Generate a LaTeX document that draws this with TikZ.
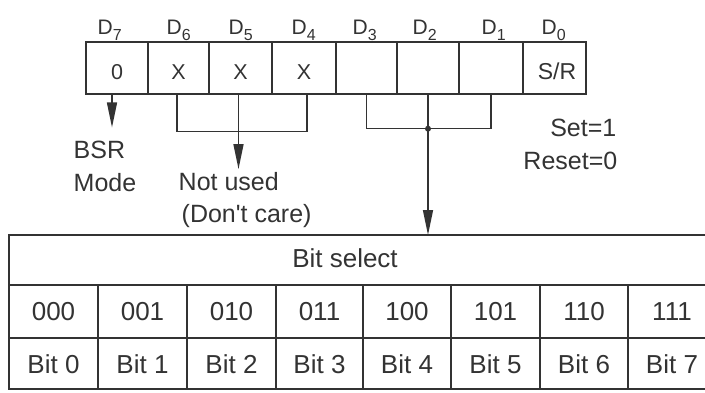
\documentclass[tikz,border=0pt]{standalone}
\usepackage{fontspec}
\setmainfont{Liberation Sans}
\newfontfamily\plainsans{Liberation Sans}
\usetikzlibrary{arrows.meta}
\definecolor{ink}{HTML}{333333}
\newcommand\dsub[1]{\raisebox{-6pt}{\fontsize{16}{16}\selectfont #1}}
\begin{document}
\begin{tikzpicture}[x=1pt,y=-1pt,line width=1.4pt,
  every node/.style={text=ink,inner sep=0pt},
  regcell/.style={draw=ink,minimum height=52pt,text height=23pt,text depth=0pt,font=\fontsize{21.5}{21.5}\selectfont},
  dlab/.style={anchor=base west,font=\fontsize{21}{21}\selectfont},
  lab/.style={font=\fontsize{25}{25}\selectfont},
  tcell/.style={font=\fontsize{26}{26}\selectfont},
  arr/.style={draw=ink,-{Triangle[length=25pt,width=10pt]}},
  grid/.style={draw=ink}]
\useasboundingbox (0,0) rectangle (705,392);
% register
\node[regcell,minimum width=62pt] (r7) at (117,68) {0};
\node[regcell,minimum width=61pt] (r6) at (178.5,68) {X};
\node[regcell,minimum width=63pt] (r5) at (240.5,68) {X};
\node[regcell,minimum width=64pt] (r4) at (304,68) {X};
\node[regcell,minimum width=61pt] (r3) at (366.5,68) {};
\node[regcell,minimum width=62pt] (r2) at (428,68) {};
\node[regcell,minimum width=64pt] (r1) at (491,68) {};
\node[regcell,minimum width=63pt,font=\fontsize{23}{23}\selectfont] (r0) at (554.5,68) {\hspace{5pt}S/R};
% bit labels
\node[dlab] (d7) at (97,34) {D\dsub{7}};
\node[dlab] (d6) at (166,34) {D\dsub{6}};
\node[dlab] (d5) at (228,34) {D\dsub{5}};
\node[dlab] (d4) at (291,34) {D\dsub{4}};
\node[dlab] (d3) at (352,34) {D\dsub{3}};
\node[dlab] (d2) at (412,34) {D\dsub{2}};
\node[dlab] (d1) at (481,34) {D\dsub{1}};
\node[dlab] (d0) at (541,34) {D\dsub{0}};
% labels
\node[lab,anchor=west] (bsr) at (73,150) {BSR};
\node[lab,anchor=west] (mode) at (73,183) {Mode};
\node[lab,anchor=west] (nu) at (178,182) {Not used};
\node[lab,anchor=west] (dc) at (181,216) {\plainsans (Don\char"0027 t care)};
\node[lab,anchor=east] (set) at (617,128) {Set=1};
\node[lab,anchor=east] (reset) at (618,161) {Reset=0};
% table
\coordinate (ttop) at (9,235);
\node[tcell] (hdr) at (345,258) {Bit select};
\draw[grid] (705,235) -- (ttop) -- (9,389) -- (705,389);
\draw[grid] (9,285) -- (705,285);
\draw[grid] (9,338) -- (705,338);
\foreach \x in {98,187,276,363,451,540,628} \draw[grid] (\x,285) -- (\x,389);
\node[tcell] (c0) at (53.5,312) {000};
\node[tcell] (c1) at (142.5,312) {001};
\node[tcell] (c2) at (231.5,312) {010};
\node[tcell] (c3) at (319.5,312) {011};
\node[tcell] (c4) at (407,312) {100};
\node[tcell] (c5) at (495.5,312) {101};
\node[tcell] (c6) at (584,312) {110};
\node[tcell] (c7) at (672,312) {111};
\node[tcell] (b0) at (53.5,364) {Bit 0};
\node[tcell] (b1) at (142.5,364) {Bit 1};
\node[tcell] (b2) at (231.5,364) {Bit 2};
\node[tcell] (b3) at (319.5,364) {Bit 3};
\node[tcell] (b4) at (407,364) {Bit 4};
\node[tcell] (b5) at (495.5,364) {Bit 5};
\node[tcell] (b6) at (584,364) {Bit 6};
\node[tcell] (b7) at (672,364) {Bit 7};
% connectors
\draw[arr,shorten >=13pt] ([xshift=-5pt]r7.south) -- ([xshift=-5pt]r7.south |- bsr.north);
\draw[grid] ([xshift=-1.5pt]r6.south) -- ++(0,37) -| ([xshift=3pt]r4.south);
\draw[arr,shorten >=3pt] ([xshift=-2pt]r5.south) -- ([xshift=-2pt]r5.south |- nu.north);
\draw[grid] (r3.south) -- ++(0,34) -| (r1.south);
\draw[arr] (r2.south) -- (r2.south |- ttop);
\fill[ink] ([yshift=-34pt]r2.south) circle (3pt);
\end{tikzpicture}
\end{document}
